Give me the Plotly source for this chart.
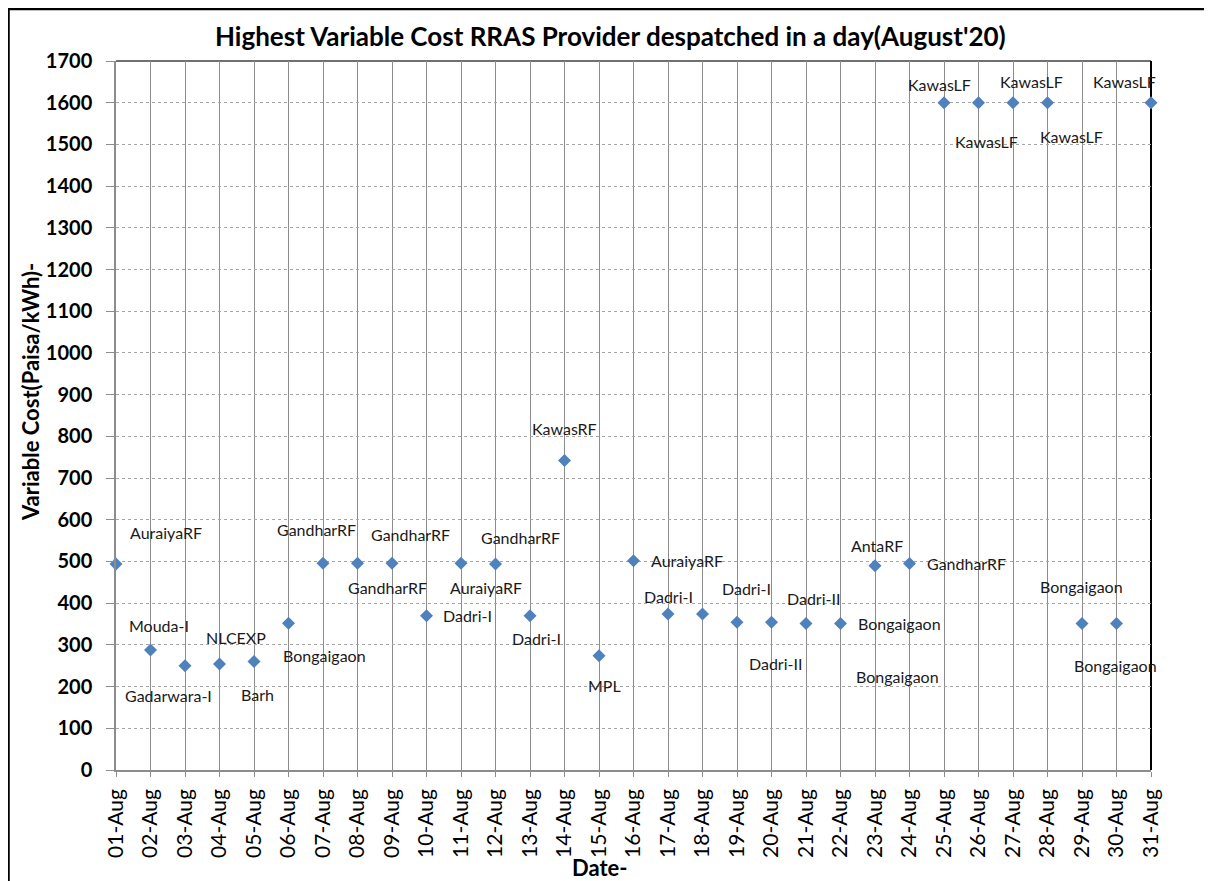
import plotly.graph_objects as go

dates = [f"{d:02d}-Aug" for d in range(1, 32)]
costs = [494, 288, 250, 254, 260, 352, 496, 496, 496, 370, 496, 494, 370, 742, 274,
         502, 374, 374, 354, 354, 351, 351, 490, 495, 1600, 1600, 1600, 1600, 351, 351, 1600]
providers = ["AuraiyaRF", "Mouda-I", "Gadarwara-I", "NLCEXP", "Barh", "Bongaigaon",
             "GandharRF", "GandharRF", "GandharRF", "Dadri-I", "AuraiyaRF", "GandharRF",
             "Dadri-I", "KawasRF", "MPL", "AuraiyaRF", "Dadri-I", "Dadri-I", "Dadri-II",
             "Dadri-II", "Bongaigaon", "Bongaigaon", "AntaRF", "GandharRF", "KawasLF",
             "KawasLF", "KawasLF", "KawasLF", "Bongaigaon", "Bongaigaon", "KawasLF"]
y_ticks = list(range(0, 1701, 100))

# label pixel offsets (dx right, dy down) relative to each marker
label_offsets = [(50, -31), (8, -24), (-17, 30), (16, -27), (3, 33), (36, 32),
                 (-7, -34), (30, 24), (18, -29), (41, 0), (25, 24), (25, -26),
                 (6, 23), (0, -32), (5, 30), (53, 0), (0, -18), (44, -26),
                 (38, 41), (42, -24), (91, 53), (59, 0), (2, -20), (57, 0),
                 (-5, -18), (8, 39), (18, -21), (24, 34), (-1, -37), (-1, 42), (-27, -21)]

FONT = "Lato, 'Open Sans', sans-serif"

# page body has an 8px margin; plot area on screen: x 116..1151, y 61..770
OFF = 8
W, H = 1212 - OFF, 881 - OFF
PL, PR, PT, PB = 116, 1151, 61, 770


def px(sx):
    return (sx - PL) / (PR - PL)


def py(sy):
    return (PB - sy) / (PB - PT)


fig = go.Figure()
fig.add_trace(go.Scatter(
    x=dates, y=costs, mode="markers",
    marker=dict(symbol="diamond", size=10, color="#4F81BD"),
    hoverinfo="x+y", showlegend=False, cliponaxis=False,
))

annotations = []
for d, v, name, (dx, dy) in zip(dates, costs, providers, label_offsets):
    annotations.append(dict(
        x=d, y=v, xref="x", yref="y", text=name, showarrow=False,
        xshift=dx, yshift=-dy, font=dict(family=FONT, size=16, color="#1a1a1a"),
    ))

annotations.append(dict(
    x=px(610), y=py(36), xref="paper", yref="paper",
    text="Highest Variable Cost RRAS Provider despatched in a day(August'20)",
    showarrow=False, font=dict(family=FONT, size=26, color="black", weight="bold"),
    xanchor="center", yanchor="middle",
))
annotations.append(dict(
    x=px(30), y=py(392), xref="paper", yref="paper",
    text="Variable Cost(Paisa/kWh)-", textangle=-90, showarrow=False,
    font=dict(family=FONT, size=22, color="black", weight="bold"),
    xanchor="center", yanchor="middle",
))
annotations.append(dict(
    x=px(600), y=py(867), xref="paper", yref="paper",
    text="Date-", showarrow=False,
    font=dict(family=FONT, size=22, color="black", weight="bold"),
    xanchor="center", yanchor="middle",
))

shapes = [
    # top and right plot border
    dict(type="line", xref="paper", yref="paper", x0=0, x1=1, y0=1, y1=1,
         line=dict(color="#404040", width=1.5), layer="between"),
    dict(type="line", xref="paper", yref="paper", x0=1, x1=1, y0=0, y1=1,
         line=dict(color="black", width=2), layer="between"),
    # outer chart border (right/bottom edges fall outside the view)
    dict(type="rect", xref="paper", yref="paper",
         x0=px(8.5), x1=px(1225), y0=py(895), y1=py(9),
         line=dict(color="black", width=2.5), fillcolor="rgba(0,0,0,0)"),
]

fig.update_layout(
    width=W, height=H,
    margin=dict(l=PL - OFF, r=W - (PR - OFF), t=PT - OFF, b=H - (PB - OFF)),
    paper_bgcolor="white", plot_bgcolor="white",
    annotations=annotations, shapes=shapes,
    xaxis=dict(
        type="category", range=[0, 30], tickangle=-90,
        tickfont=dict(family=FONT, size=21, color="black"),
        showgrid=True, gridcolor="#8C8C8C", gridwidth=1.3,
        showline=True, linecolor="#8C8C8C", linewidth=1.5,
        ticks="outside", ticklen=5, tickcolor="#8C8C8C", tickwidth=1.3,
        ticklabelstandoff=4,
        zeroline=False, fixedrange=True,
    ),
    yaxis=dict(
        range=[0, 1700], tickvals=y_ticks,
        tickfont=dict(family=FONT, size=20, color="black", weight="bold"),
        showgrid=True, gridcolor="#A6A6A6", gridwidth=1, griddash="dot",
        showline=True, linecolor="#8C8C8C", linewidth=1.5,
        ticks="outside", ticklen=8, tickcolor="#8C8C8C", tickwidth=1.3,
        ticklabelstandoff=10,
        zeroline=False, fixedrange=True,
    ),
)

fig.write_html("out.html")
